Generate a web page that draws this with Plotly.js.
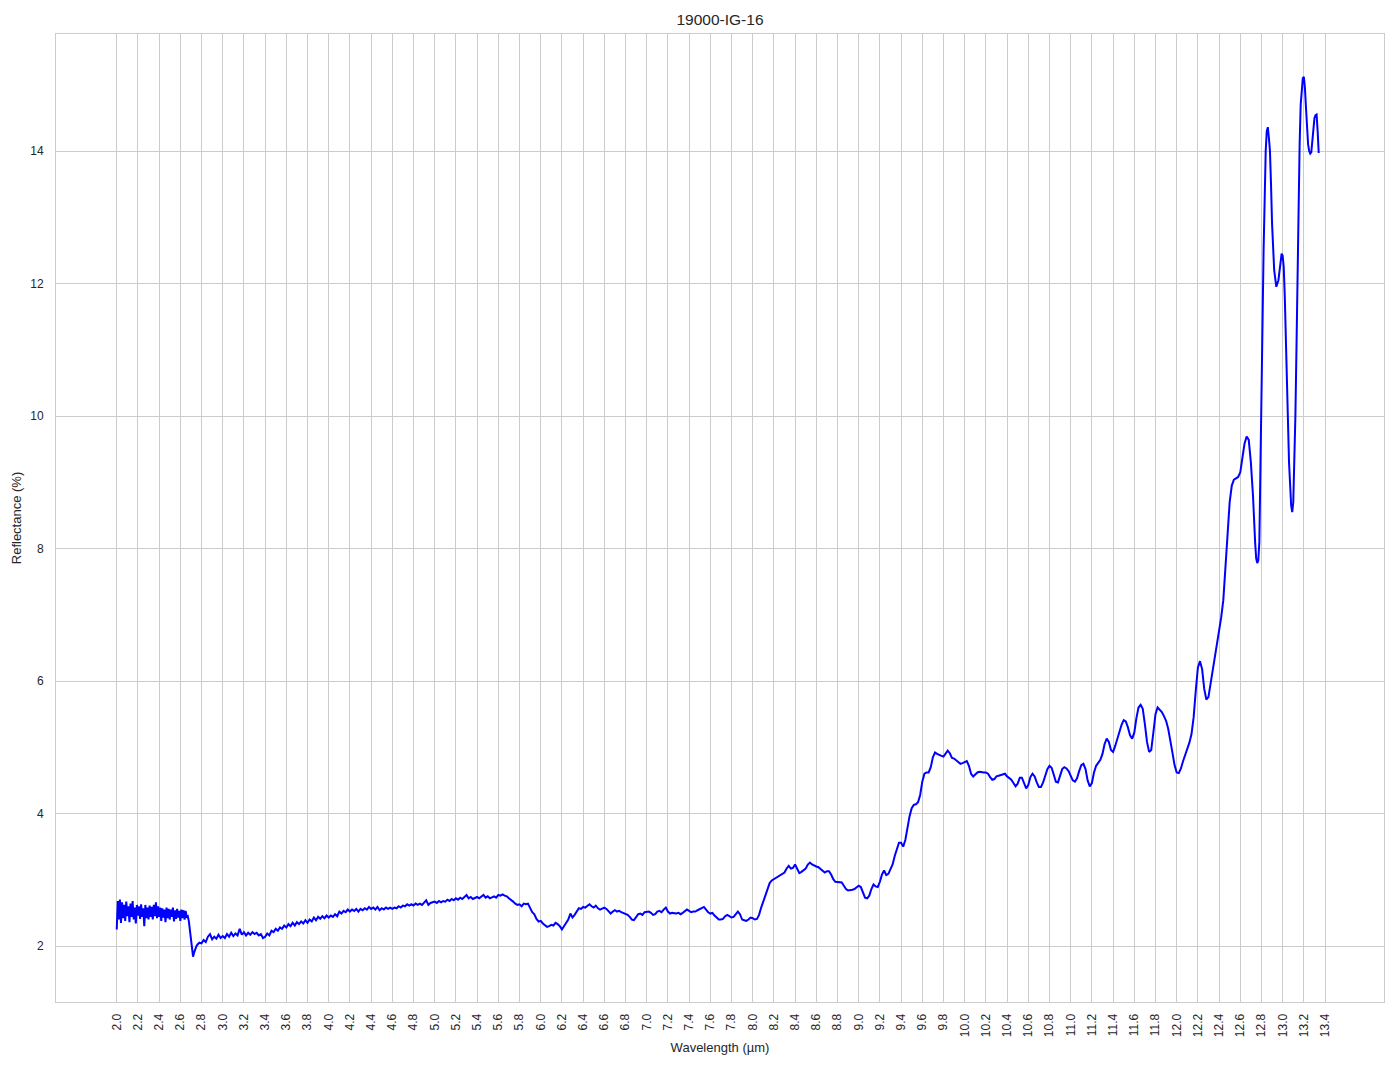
<!DOCTYPE html>
<html>
<head>
<meta charset="utf-8">
<script src="https://cdn.plot.ly/plotly-3.0.1.min.js"></script>
<style>html,body{margin:0;padding:0;background:#fff;}#chart{width:1394px;height:1069px;}</style>
</head>
<body>
<div id="chart"></div>
<script>
// Noisy near-IR part (2.00 - 2.78 µm)
const wlNoisy = [
2.00,2.01,2.02,2.03,2.04,2.05,2.06,2.07,2.08,2.09,
2.10,2.11,2.12,2.13,2.14,2.15,2.16,2.17,2.18,2.19,
2.20,2.21,2.22,2.23,2.24,2.25,2.26,2.27,2.28,2.29,
2.30,2.31,2.32,2.33,2.34,2.35,2.36,2.37,2.38,2.39,
2.40,2.41,2.42,2.43,2.44,2.45,2.46,2.47,2.48,2.49,
2.50,2.51,2.52,2.53,2.54,2.55,2.56,2.57,2.58,2.59,
2.60,2.61,2.62,2.63,2.64,2.65,2.66,
2.67,2.68,2.69,2.70,2.71,2.72,2.73,2.74,2.75,2.76,2.78];
const rfNoisy = [
2.25,2.68,2.40,2.70,2.35,2.66,2.42,2.62,2.38,2.67,
2.45,2.60,2.36,2.64,2.44,2.68,2.40,2.58,2.34,2.62,
2.46,2.60,2.41,2.63,2.44,2.57,2.30,2.62,2.42,2.58,
2.40,2.61,2.44,2.59,2.40,2.62,2.45,2.66,2.42,2.60,
2.44,2.58,2.38,2.57,2.43,2.55,2.36,2.58,2.42,2.56,
2.40,2.55,2.44,2.58,2.37,2.54,2.41,2.56,2.43,2.53,
2.38,2.55,2.42,2.54,2.40,2.53,2.44,
2.45,2.38,2.24,2.05,1.90,1.84,1.90,1.96,1.99,2.02,2.05];

// 2.80 - 3.98 µm
const wlShort = [
2.80,2.82,2.84,2.86,2.88,2.90,2.92,2.94,2.96,2.98,
3.00,3.02,3.04,3.06,3.08,3.10,3.12,3.14,3.16,3.18,
3.20,3.22,3.24,3.26,3.28,3.30,3.32,3.34,3.36,3.38,
3.40,3.42,3.44,3.46,3.48,3.50,3.52,3.54,3.56,3.58,
3.60,3.62,3.64,3.66,3.68,3.70,3.72,3.74,3.76,3.78,
3.80,3.82,3.84,3.86,3.88,3.90,3.92,3.94,3.96,3.98];
const rfShort = [
2.04,2.09,2.06,2.14,2.18,2.10,2.14,2.11,2.17,2.12,
2.15,2.12,2.18,2.14,2.20,2.15,2.19,2.16,2.26,2.17,
2.21,2.16,2.20,2.17,2.21,2.18,2.20,2.16,2.18,2.12,
2.14,2.19,2.16,2.23,2.21,2.26,2.23,2.28,2.26,2.31,
2.28,2.33,2.30,2.35,2.31,2.36,2.33,2.37,2.34,2.39,
2.35,2.40,2.37,2.43,2.39,2.44,2.41,2.45,2.42,2.46];

// 4.00 - 8.18 µm
const wlMid = [
4.00,4.02,4.04,4.06,4.08,4.10,4.12,4.14,4.16,4.18,
4.20,4.22,4.24,4.26,4.28,4.30,4.32,4.34,4.36,4.38,
4.40,4.42,4.44,4.46,4.48,4.50,4.52,4.54,4.56,4.58,
4.60,4.62,4.64,4.66,4.68,4.70,4.72,4.74,4.76,4.78,
4.80,4.82,4.84,4.86,4.88,4.90,4.92,4.94,4.96,4.98,
5.00,5.02,5.04,5.06,5.08,5.10,5.12,5.14,5.16,5.18,
5.20,5.22,5.24,5.26,5.28,5.30,5.32,5.34,5.36,5.38,
5.40,5.42,5.44,5.46,5.48,5.50,5.52,5.54,5.56,5.58,
5.60,5.62,5.64,5.66,5.68,5.70,5.72,5.74,5.76,5.78,
5.80,5.82,5.84,5.86,5.88,5.90,5.92,5.94,5.96,5.98,
6.00,6.02,6.04,6.06,6.08,6.10,6.12,6.14,6.16,6.18,
6.20,6.22,6.24,6.26,6.28,6.30,6.32,6.34,6.36,6.38,
6.40,6.42,6.44,6.46,6.48,6.50,6.52,6.54,6.56,6.58,
6.60,6.62,6.64,6.66,6.68,6.70,6.72,6.74,6.76,6.78,
6.80,6.82,6.84,6.86,6.88,6.90,6.92,6.94,6.96,6.98,
7.00,7.02,7.04,7.06,7.08,7.10,7.12,7.14,7.16,7.18,
7.20,7.22,7.24,7.26,7.28,7.30,7.32,7.34,7.36,7.38,
7.40,7.42,7.44,7.46,7.48,7.50,7.52,7.54,7.56,7.58,
7.60,7.62,7.64,7.66,7.68,7.70,7.72,7.74,7.76,7.78,
7.80,7.82,7.84,7.86,7.88,7.90,7.92,7.94,7.96,7.98,
8.00,8.02,8.04,8.06,8.08,8.10,8.12,8.14,8.16,8.18];
const rfMid = [
2.43,2.46,2.44,2.48,2.45,2.52,2.49,2.53,2.51,2.55,
2.52,2.55,2.53,2.56,2.52,2.56,2.54,2.57,2.55,2.59,
2.56,2.58,2.55,2.59,2.54,2.57,2.55,2.58,2.56,2.58,
2.56,2.58,2.57,2.60,2.58,2.61,2.60,2.63,2.61,2.63,
2.61,2.64,2.62,2.64,2.62,2.66,2.69,2.62,2.65,2.66,
2.67,2.65,2.68,2.66,2.68,2.67,2.70,2.68,2.71,2.69,
2.72,2.70,2.73,2.71,2.74,2.77,2.72,2.74,2.71,2.73,
2.74,2.72,2.75,2.77,2.73,2.75,2.72,2.74,2.75,2.73,
2.77,2.76,2.78,2.76,2.75,2.72,2.70,2.67,2.64,2.62,
2.63,2.60,2.64,2.63,2.64,2.57,2.51,2.48,2.41,2.37,
2.38,2.34,2.32,2.29,2.30,2.32,2.31,2.35,2.33,2.30,
2.25,2.30,2.35,2.40,2.49,2.43,2.47,2.52,2.57,2.56,
2.59,2.58,2.60,2.63,2.60,2.58,2.61,2.57,2.55,2.57,
2.58,2.56,2.52,2.49,2.52,2.54,2.52,2.53,2.51,2.50,
2.48,2.47,2.44,2.40,2.39,2.43,2.48,2.49,2.47,2.51,
2.52,2.52,2.50,2.47,2.48,2.52,2.53,2.51,2.55,2.58,
2.52,2.49,2.50,2.49,2.49,2.50,2.48,2.50,2.53,2.55,
2.53,2.51,2.52,2.52,2.54,2.56,2.58,2.59,2.55,2.51,
2.49,2.50,2.46,2.43,2.40,2.40,2.41,2.45,2.47,2.45,
2.43,2.44,2.49,2.52,2.48,2.40,2.39,2.38,2.40,2.43,
2.42,2.40,2.41,2.47,2.58,2.68,2.78,2.88,2.95,2.99];

// 8.20 - 12.38 µm
const wlLong = [
8.20,8.22,8.24,8.26,8.28,8.30,8.32,8.34,8.36,8.38,
8.40,8.42,8.44,8.46,8.48,8.50,8.52,8.54,8.56,8.58,
8.60,8.62,8.64,8.66,8.68,8.70,8.72,8.74,8.76,8.78,
8.80,8.82,8.84,8.86,8.88,8.90,8.92,8.94,8.96,8.98,
9.00,9.02,9.04,9.06,9.08,9.10,9.12,9.14,9.16,9.18,
9.20,9.22,9.24,9.26,9.28,9.30,9.32,9.34,9.36,9.38,
9.40,9.42,9.44,9.46,9.48,9.50,9.52,9.54,9.56,9.58,
9.60,9.62,9.64,9.66,9.68,9.70,9.72,9.74,9.76,9.78,
9.80,9.82,9.84,9.86,9.88,9.90,9.92,9.94,9.96,9.98,
10.00,10.02,10.04,10.06,10.08,10.10,10.12,10.14,10.16,10.18,
10.20,10.22,10.24,10.26,10.28,10.30,10.32,10.34,10.36,10.38,
10.40,10.42,10.44,10.46,10.48,10.50,10.52,10.54,10.56,10.58,
10.60,10.62,10.64,10.66,10.68,10.70,10.72,10.74,10.76,10.78,
10.80,10.82,10.84,10.86,10.88,10.90,10.92,10.94,10.96,10.98,
11.00,11.02,11.04,11.06,11.08,11.10,11.12,11.14,11.16,11.18,
11.20,11.22,11.24,11.26,11.28,11.30,11.32,11.34,11.36,11.38,
11.40,11.42,11.44,11.46,11.48,11.50,11.52,11.54,11.56,11.58,
11.60,11.62,11.64,11.66,11.68,11.70,11.72,11.74,11.76,11.78,
11.80,11.82,11.84,11.86,11.88,11.90,11.92,11.94,11.96,11.98,
12.00,12.02,12.04,12.06,12.08,12.10,12.12,12.14,12.16,12.18,
12.20,12.22,12.24,12.26,12.28,12.30,12.32,12.34,12.36,12.38];
const rfLong = [
3.01,3.03,3.05,3.07,3.08,3.11,3.17,3.21,3.17,3.18,
3.23,3.17,3.10,3.12,3.15,3.17,3.23,3.26,3.23,3.21,
3.20,3.19,3.16,3.13,3.11,3.13,3.13,3.08,3.01,2.97,
2.97,2.97,2.96,2.91,2.86,2.84,2.84,2.85,2.86,2.88,
2.91,2.89,2.80,2.73,2.72,2.76,2.86,2.93,2.90,2.89,
2.97,3.08,3.14,3.07,3.09,3.17,3.23,3.36,3.48,3.56,
3.56,3.50,3.60,3.80,3.96,4.08,4.13,4.14,4.17,4.28,
4.48,4.60,4.62,4.62,4.70,4.85,4.92,4.90,4.88,4.87,
4.86,4.91,4.95,4.91,4.84,4.83,4.80,4.77,4.75,4.76,
4.78,4.79,4.72,4.60,4.56,4.59,4.62,4.63,4.62,4.62,
4.62,4.60,4.55,4.51,4.52,4.56,4.57,4.58,4.60,4.60,
4.56,4.53,4.51,4.46,4.41,4.45,4.54,4.54,4.45,4.38,
4.43,4.55,4.60,4.56,4.47,4.40,4.40,4.47,4.57,4.67,
4.72,4.69,4.59,4.48,4.47,4.57,4.67,4.70,4.68,4.64,
4.56,4.50,4.48,4.53,4.64,4.73,4.75,4.67,4.50,4.41,
4.46,4.62,4.72,4.77,4.81,4.90,5.05,5.13,5.08,4.96,
4.93,5.02,5.14,5.24,5.34,5.41,5.39,5.30,5.18,5.13,
5.22,5.44,5.60,5.64,5.58,5.35,5.08,4.93,4.96,5.22,
5.50,5.60,5.57,5.53,5.47,5.40,5.28,5.12,4.92,4.73,
4.62,4.61,4.68,4.79,4.88,4.97,5.07,5.20,5.45,5.85,
6.20,6.30,6.18,5.88,5.72,5.76,5.96,6.12,6.33,6.52];

// 12.40 - 13.34 µm (strong features)
const wlEdge = [
12.40,12.42,12.44,12.46,12.48,12.50,12.52,12.54,12.56,12.58,
12.60,12.62,12.64,12.66,12.68,12.70,12.72,12.74,12.75,12.76,
12.77,12.78,12.79,12.80,12.81,12.82,12.83,12.84,12.85,12.86,
12.87,12.88,12.89,12.90,12.92,12.94,12.96,12.98,12.99,13.00,
13.01,13.02,13.03,13.04,13.06,13.08,13.09,13.10,13.11,13.12,
13.13,13.14,13.15,13.16,13.17,13.18,13.19,13.20,13.21,13.22,
13.23,13.24,13.25,13.26,13.27,13.28,13.29,13.30,13.31,13.32,
13.33,13.34];
const rfEdge = [
6.72,6.96,7.22,7.70,8.25,8.70,8.95,9.04,9.06,9.08,
9.15,9.35,9.58,9.69,9.64,9.30,8.80,8.10,7.85,7.78,
7.82,8.10,9.00,10.20,11.40,12.50,13.40,14.00,14.30,14.36,
14.20,14.00,13.50,12.90,12.20,11.95,12.05,12.35,12.45,12.42,
12.25,11.80,11.20,10.50,9.30,8.65,8.55,8.70,9.20,10.00,
11.00,12.20,13.30,14.10,14.70,15.00,15.10,15.12,14.95,14.65,
14.35,14.10,14.00,13.96,13.98,14.15,14.35,14.50,14.54,14.55,
14.30,13.97];

const xTickVals = [2.0,2.2,2.4,2.6,2.8,3.0,3.2,3.4,3.6,3.8,4.0,4.2,4.4,4.6,4.8,5.0,5.2,5.4,5.6,5.8,6.0,6.2,6.4,6.6,6.8,7.0,7.2,7.4,7.6,7.8,8.0,8.2,8.4,8.6,8.8,9.0,9.2,9.4,9.6,9.8,10.0,10.2,10.4,10.6,10.8,11.0,11.2,11.4,11.6,11.8,12.0,12.2,12.4,12.6,12.8,13.0,13.2,13.4];
const yTickVals = [2,4,6,8,10,12,14];

const wavelength = [].concat(wlNoisy, wlShort, wlMid, wlLong, wlEdge);
const reflectance = [].concat(rfNoisy, rfShort, rfMid, rfLong, rfEdge);

const trace = {
  x: wavelength, y: reflectance, type: 'scatter', mode: 'lines',
  line: {color: '#0000ff', width: 2}, hoverinfo: 'skip'
};

const textColor = '#262626';
const fam = 'Liberation Sans, Arial, sans-serif';
const layout = {
  width: 1394, height: 1069,
  margin: {l: 56, r: 10, t: 34, b: 67, pad: 0},
  paper_bgcolor: '#ffffff', plot_bgcolor: '#ffffff',
  font: {family: fam, color: textColor, size: 12},
  showlegend: false,
  title: {text: '19000-IG-16', font: {size: 15.5, color: textColor, family: fam},
          x: 0.5, xref: 'paper', xanchor: 'center', y: 1 - 20/1069, yref: 'container', yanchor: 'middle'},
  xaxis: {
    range: [1.427, 13.956], tickmode: 'array', tickvals: xTickVals,
    ticktext: xTickVals.map(v => v.toFixed(1)),
    tickangle: -90, ticks: '', ticklabelstandoff: 6,
    showgrid: true, gridcolor: '#cccccc', gridwidth: 1,
    zeroline: false, showline: true, mirror: true, linecolor: '#cccccc', linewidth: 1,
    tickfont: {size: 12, color: textColor, family: fam},
    title: {text: 'Wavelength (µm)', font: {size: 13, color: textColor, family: fam}, standoff: 6}
  },
  yaxis: {
    range: [1.155, 15.766], tickmode: 'array', tickvals: yTickVals,
    ticktext: yTickVals.map(v => String(v)),
    ticks: '', ticklabelstandoff: 9,
    showgrid: true, gridcolor: '#cccccc', gridwidth: 1,
    zeroline: false, showline: true, mirror: true, linecolor: '#cccccc', linewidth: 1,
    tickfont: {size: 12, color: textColor, family: fam},
    title: {text: 'Reflectance (%)', font: {size: 13, color: textColor, family: fam}, standoff: 5}
  }
};

Plotly.newPlot('chart', [trace], layout, {displayModeBar: false, staticPlot: true});
</script>
</body>
</html>
